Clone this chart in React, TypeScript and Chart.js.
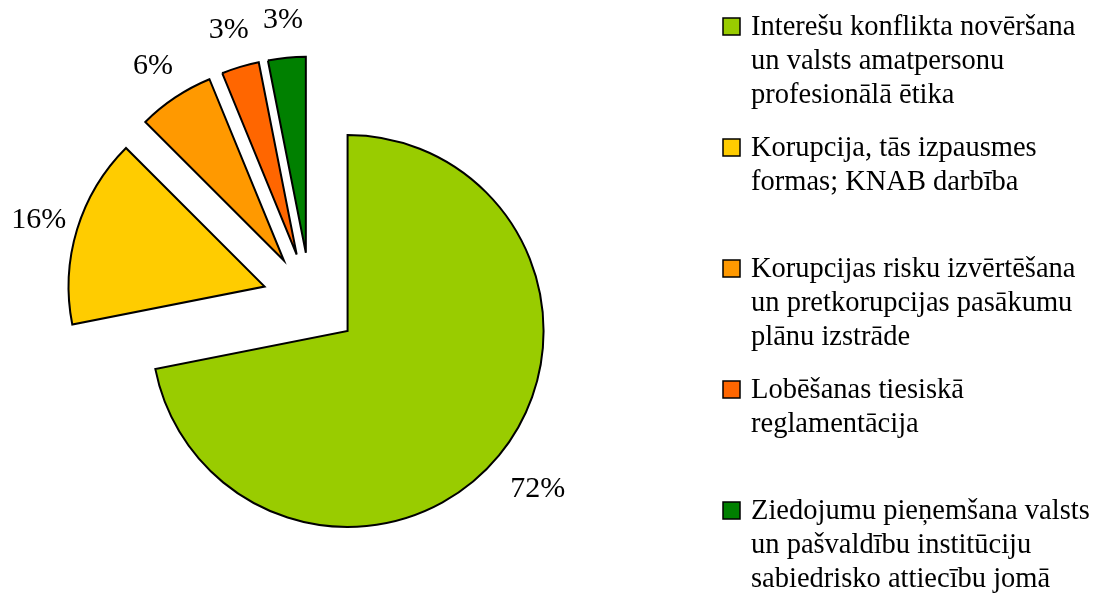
import React, { useEffect, useRef } from "react";
import { Chart, registerables } from "chart.js";

Chart.register(...registerables);

// Category names (legend lines as shown in the reference)
const categoryLines: string[][] = [
  ["Interešu konflikta novēršana", "un valsts amatpersonu", "profesionālā ētika"],
  ["Korupcija, tās izpausmes", "formas; KNAB darbība"],
  ["Korupcijas risku izvērtēšana", "un pretkorupcijas pasākumu", "plānu izstrāde"],
  ["Lobēšanas tiesiskā", "reglamentācija"],
  ["Ziedojumu pieņemšana valsts", "un pašvaldību institūciju", "sabiedrisko attiecību jomā"],
];
const categories = categoryLines.map((l) => l.join(" "));

const shares = [71.9, 15.6, 6.3, 3.1, 3.1];

const colors = ["#99CC00", "#FFCC00", "#FF9900", "#FF6600", "#008000"];

const FONT = '"Liberation Serif", "Times New Roman", serif';
const RADIUS = 196;
const EXPLODE = 48;

const explodePlugin = {
  id: "explodeAndLabels",
  beforeDatasetsDraw(chart: any) {
    const meta = chart.getDatasetMeta(0);
    const a = chart.chartArea;
    const cx = (a.left + a.right) / 2;
    const cy = (a.top + a.bottom) / 2;
    meta.data.forEach((arc: any) => {
      const mid = (arc.startAngle + arc.endAngle) / 2;
      arc.x = cx + Math.cos(mid) * EXPLODE;
      arc.y = cy + Math.sin(mid) * EXPLODE;
    });
  },
  afterDatasetsDraw(chart: any) {
    const meta = chart.getDatasetMeta(0);
    const ctx = chart.ctx as CanvasRenderingContext2D;
    const data = chart.data.datasets[0].data as number[];
    const total = data.reduce((s, v) => s + v, 0);
    ctx.save();
    ctx.font = `30px ${FONT}`;
    ctx.fillStyle = "#000";
    ctx.textAlign = "center";
    ctx.textBaseline = "middle";
    meta.data.forEach((arc: any, i: number) => {
      const mid = (arc.startAngle + arc.endAngle) / 2;
      const dx = Math.cos(mid);
      const dy = Math.sin(mid);
      const dist = arc.outerRadius + 40 + 16 * Math.max(0, dy);
      ctx.fillText(
        Math.round((data[i] / total) * 100) + "%",
        arc.x + dx * dist,
        arc.y + dy * dist + 2
      );
    });
    ctx.restore();
  },
  afterDraw(chart: any) {
    const ctx = chart.ctx as CanvasRenderingContext2D;
    const boxX = 723;
    const boxSize = 17;
    const textX = 751;
    const firstBaseline = 35;
    const slot = 121;
    const lineH = 34;
    ctx.save();
    ctx.font = `28.5px ${FONT}`;
    ctx.textAlign = "left";
    ctx.textBaseline = "alphabetic";
    categoryLines.forEach((lines, i) => {
      const base = firstBaseline + i * slot;
      ctx.fillStyle = colors[i];
      ctx.fillRect(boxX, base - boxSize, boxSize, boxSize);
      ctx.lineWidth = 1.5;
      ctx.strokeStyle = "#000";
      ctx.strokeRect(boxX, base - boxSize, boxSize, boxSize);
      ctx.fillStyle = "#000";
      lines.forEach((t, j) => ctx.fillText(t, textX, base + j * lineH));
    });
    ctx.restore();
  },
};

export default function App() {
  const ref = useRef<HTMLCanvasElement | null>(null);
  useEffect(() => {
    if (!ref.current) return;
    const chart = new Chart(ref.current, {
      type: "pie",
      data: {
        labels: categories,
        datasets: [
          {
            data: shares,
            backgroundColor: colors,
            borderColor: "#000",
            borderWidth: 2,
            borderJoinStyle: "miter",
            radius: RADIUS,
            clip: false,
          } as any,
        ],
      },
      options: {
        animation: false,
        responsive: false,
        events: [],
        layout: { padding: { left: 0, top: 4, right: 473, bottom: 0 } },
        plugins: {
          legend: { display: false },
          tooltip: { enabled: false },
        },
      },
      plugins: [explodePlugin],
    });
    return () => chart.destroy();
  }, []);
  return (
    <div style={{ position: "fixed", left: 0, top: 0, width: 1094, height: 597, background: "#fff" }}>
      <canvas ref={ref} width={1094} height={597} style={{ width: 1094, height: 597 }} />
    </div>
  );
}
